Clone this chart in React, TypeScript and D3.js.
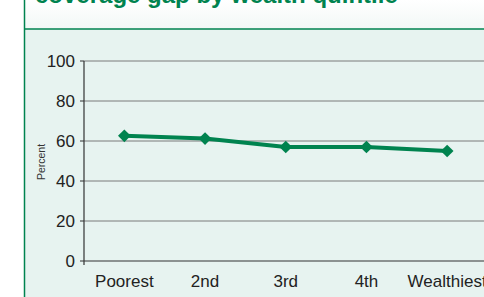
import React from 'react'
import { scaleLinear, scaleBand, line } from 'd3'

const quintiles = ['Poorest', '2nd', '3rd', '4th', 'Wealthiest']
const gapValues = [62.6, 61.2, 57, 57, 55]
const yTicks = [0, 20, 40, 60, 80, 100]

const W = 484
const H = 297
const green = '#00834f'

export default function App() {
  const x = scaleBand<string>().domain(quintiles).range([84, 487.5])
  const y = scaleLinear().domain([0, 100]).range([261, 61])
  const cx = (d: string) => (x(d) as number) + x.bandwidth() / 2

  const path = line<number>()
    .x((_, i) => cx(quintiles[i]))
    .y(d => y(d))(gapValues)

  return (
    <svg width={W} height={H} style={{ position: 'absolute', left: 0, top: 0 }}
      fontFamily="Liberation Sans, Arial, sans-serif">
      <defs>
        <linearGradient id="hdr" x1="0" y1="0" x2="0" y2="1">
          <stop offset="0" stopColor="#ffffff" />
          <stop offset="1" stopColor="#f2f8f6" />
        </linearGradient>
      </defs>
      <rect x={0} y={0} width={W} height={H} fill="#ffffff" />
      <rect x={24} y={0} width={W - 24} height={29} fill="url(#hdr)" />
      <rect x={24} y={29} width={W - 24} height={H - 29} fill="#e7f3f0" />
      <line x1={24} x2={W} y1={29} y2={29} stroke={green} strokeWidth={1.5} />
      <line x1={24.5} x2={24.5} y1={0} y2={H} stroke={green} strokeWidth={1.5} />

      {/* title, mostly cropped off the top as in the source */}
      <text x={35} y={3} fill={green} fontSize={24} fontWeight="bold">
        coverage gap by wealth quintile
      </text>

      {/* grid + y ticks */}
      {yTicks.map(t => (
        <g key={t}>
          {t > 0 && <line x1={84} x2={W} y1={y(t)} y2={y(t)} stroke="#7a7a7a" strokeWidth={1} />}
          <line x1={80} x2={84} y1={y(t)} y2={y(t)} stroke="#333" />
          <text x={75} y={y(t)} dy="0.35em" textAnchor="end" fontSize={17} fill="#222">{t}</text>
        </g>
      ))}
      <line x1={84} x2={84} y1={y(100)} y2={265} stroke="#333" strokeWidth={1.2} />
      <line x1={84} x2={W} y1={y(0)} y2={y(0)} stroke="#333" strokeWidth={1.2} />

      <text transform={`translate(45,162) rotate(-90)`} textAnchor="middle" fontSize={10.5} fill="#333">
        Percent
      </text>

      {quintiles.map(q => (
        <text key={q} x={cx(q)} y={287} textAnchor="middle" fontSize={17} fill="#222">{q}</text>
      ))}

      <path d={path ?? ''} fill="none" stroke={green} strokeWidth={4} strokeLinejoin="round" />
      {gapValues.map((v, i) => (
        <rect key={i} x={-4.5} y={-4.5} width={9} height={9} fill={green}
          transform={`translate(${cx(quintiles[i])},${y(v)}) rotate(45)`} />
      ))}
    </svg>
  )
}
